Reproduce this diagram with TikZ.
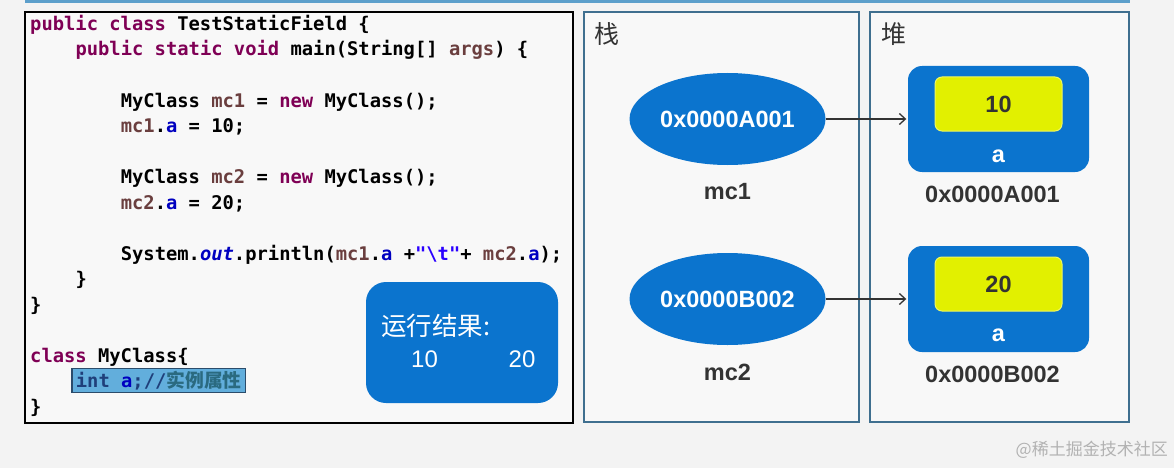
\documentclass[tikz,border=0pt]{standalone}
\usepackage{fontspec}
\setmonofont{DejaVu Sans Mono}
\newfontfamily\cjk{Noto Sans CJK SC}
\newfontfamily\arial{Liberation Sans}
\usetikzlibrary{shapes.geometric,arrows.meta}
\definecolor{kwcol}{HTML}{7F0055}
\definecolor{varcol}{HTML}{6A3E3E}
\definecolor{fldcol}{HTML}{0000C0}
\definecolor{strcol}{HTML}{2A00FF}
\definecolor{memblue}{HTML}{0B74CE}
\definecolor{valyellow}{HTML}{E2F000}
\definecolor{panelcol}{HTML}{3F6F8F}
\definecolor{bgcol}{HTML}{F3F3F3}
\definecolor{boxcol}{HTML}{F8F8F8}
\definecolor{hlfill}{HTML}{62AEDC}
\definecolor{hlline}{HTML}{2B4C6B}
\definecolor{hltext}{HTML}{1F3F7A}
\definecolor{hlcjk}{HTML}{2A6A80}
\definecolor{topline}{HTML}{5C9FCB}
\definecolor{labelcol}{HTML}{333333}
\newcommand{\kw}[1]{\textcolor{kwcol}{#1}}
\newcommand{\lv}[1]{\textcolor{varcol}{#1}}
\newcommand{\fld}[1]{\textcolor{fldcol}{#1}}

\begin{document}
\begin{tikzpicture}[x=1pt, y=-1pt,
	code/.style={anchor=base west, inner sep=0pt, font=\ttfamily\bfseries\fontsize{18.8}{22}\selectfont},
	panel/.style={rectangle, draw=panelcol, line width=1.6pt, fill=boxcol},
	addr/.style={ellipse, fill=memblue, inner sep=0pt, minimum width=196pt, minimum height=92pt, text=white, font=\arial\bfseries\fontsize{23.5}{26}\selectfont},
	obj/.style={rectangle, rounded corners=14pt, fill=memblue, minimum width=181pt, minimum height=106pt},
	val/.style={rectangle, rounded corners=7pt, fill=valyellow, draw=valyellow!60!white, line width=1pt, minimum width=127pt, minimum height=54pt, text=labelcol, font=\arial\bfseries\fontsize{23.5}{26}\selectfont},
	lbl/.style={inner sep=0pt, text=labelcol, font=\arial\bfseries\fontsize{23.5}{26}\selectfont},
	arr/.style={draw=labelcol, line width=1.3pt, shorten >=1.5pt, -{Straight Barb[length=6pt,width=11pt]}}]
	\fill[bgcol] (0,0) rectangle (1174,468);
	\useasboundingbox (0,0) rectangle (1174,468);
	\fill[topline] (25,0) rectangle (1130,3.5);
	
	\node[rectangle, draw=black, line width=1.8pt, fill=boxcol, minimum width=548pt, minimum height=411pt] (codebox) at (299,217.5){};
	\node[panel, minimum width=275pt, minimum height=410pt] (stackbox) at (721.5,217){};
	\node[panel, minimum width=259pt, minimum height=410pt] (heapbox) at (999.5,217){};
	
	\node[code] (l1) at (30,30.5){\kw{public} \kw{class} TestStaticField \{};
	\node[code] (l2) at (75.3,56){\kw{public} \kw{static} \kw{void} main(String[] \lv{args}) \{};
	\node[code] (l3) at (120.6,107){MyClass \lv{mc1} = \kw{new} MyClass();};
	\node[code] (l4) at (120.6,132.5){\lv{mc1}.\fld{a} = 10;};
	\node[code] (l5) at (120.6,183.5){MyClass \lv{mc2} = \kw{new} MyClass();};
	\node[code] (l6) at (120.6,209){\lv{mc2}.\fld{a} = 20;};
	\node[code] (l7) at (120.6,260){System.\fld{\itshape out}.println(\lv{mc1}.\fld{a} +\textcolor{strcol}{"\textbackslash t"}+ \lv{mc2}.\fld{a});};
	\node[code] (l8) at (75.3,285.5){\}};
	\node[code] (l9) at (30,311){\}};
	\node[code] (l10) at (30,362){\kw{class} MyClass\{};
	\node[code, fill=hlfill, draw=hlline, line width=1.2pt, inner xsep=4pt, inner ysep=2.5pt] (l11) at (71.3,387.5){\textcolor{hltext}{int} \fld{a}\textcolor{hltext}{;//}\textcolor{hlcjk}{\cjk 实例属性}};
	\node[code] (l12) at (30,413){\}};
	
	\node[rectangle, rounded corners=20pt, fill=memblue, minimum width=192pt, minimum height=121pt] (result) at (462,342.5){};
	\node[anchor=west, inner sep=0pt, text=white, font=\cjk\fontsize{25.5}{28}\selectfont] (restitle) at (381,326){运行结果:};
	\node[inner sep=0pt, text=white, font=\arial\fontsize{24}{26}\selectfont] (res1) at (424.5,359){10};
	\node[inner sep=0pt, text=white, font=\arial\fontsize{24}{26}\selectfont] (res2) at (522,359){20};
	
	\node[anchor=west, inner sep=0pt, text=labelcol, font=\cjk\fontsize{25}{28}\selectfont] (stacktitle) at (594,34){栈};
	\node[anchor=west, inner sep=0pt, text=labelcol, font=\cjk\fontsize{25}{28}\selectfont] (heaptitle) at (881,34){堆};
	
	\node[addr] (e1) at (727.5,119){0x0000A001};
	\node[lbl] (n1) at (727.5,192){mc1};
	\node[addr] (e2) at (727.5,299){0x0000B002};
	\node[lbl] (n2) at (727.5,372){mc2};
	
	\node[obj] (h1) at (998.5,119){};
	\node[val] (v1) at (998.5,104){10};
	\node[lbl, text=white] (f1) at (998.5,156){a};
	\node[lbl] (a1) at (992.5,194){0x0000A001};
	\node[obj] (h2) at (998.5,299){};
	\node[val] (v2) at (998.5,284){20};
	\node[lbl, text=white] (f2) at (998.5,335){a};
	\node[lbl] (a2) at (992.5,374){0x0000B002};
	
	\path[arr] (e1) edge (h1);
	\path[arr] (e2) edge (h2);
	
	\node[anchor=east, inner sep=0pt, text=black!30, font=\cjk\fontsize{17}{20}\selectfont] (mark) at (1168,450){@稀土掘金技术社区};
\end{tikzpicture}
\end{document}
